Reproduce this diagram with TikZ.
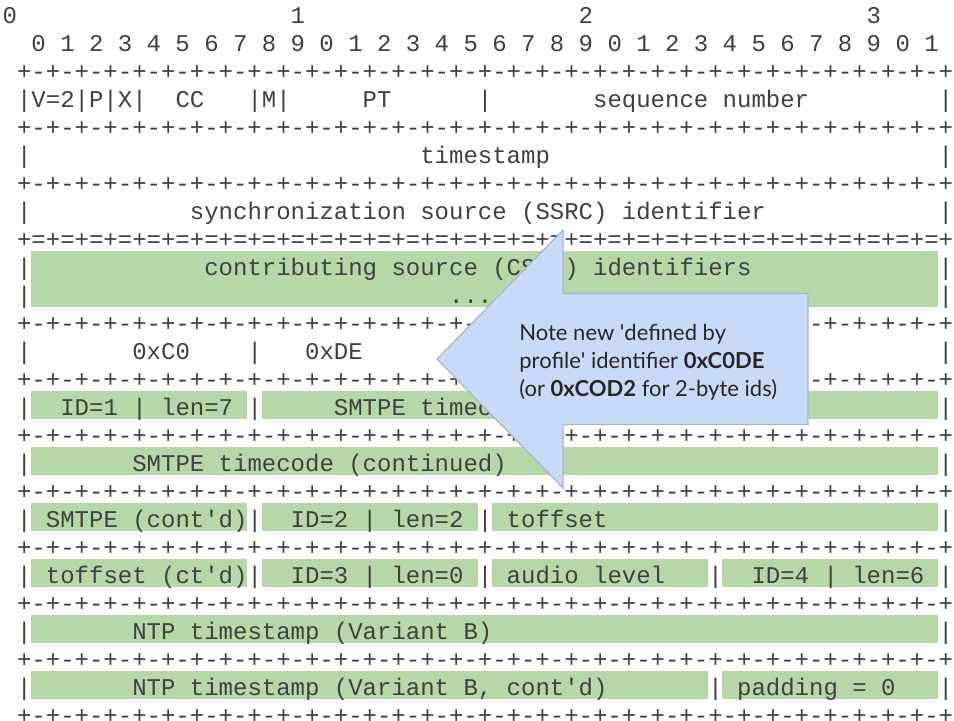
\documentclass[tikz,border=0pt]{standalone}
\usepackage{fontspec}
\setmonofont{Liberation Mono}
\newfontfamily\notefont{Lato}
\usetikzlibrary{positioning}
\definecolor{hlgreen}{HTML}{B6D7A8}
\definecolor{noteblue}{HTML}{C9DAF8}
\definecolor{noteedge}{HTML}{A9B6CA}
\frenchspacing
% one piece of the ascii header: name, column, line, text
\newcommand{\field}[4]{\node[mono] (#1) at ({2.3+14.4*#2},{23+28*#3}) {#4};}

\begin{document}
\begin{tikzpicture}
[x=0.5pt, y=-0.5pt]
\tikzstyle{mono}=[anchor=base west, inner sep=0pt, font=\ttfamily\fontsize{12}{14}\selectfont, text=black!75]
\tikzstyle{hl}=[fill=hlgreen]
\tikzstyle{callout}=[fill=noteblue, draw=noteedge, line width=0.6pt, line join=miter]
\tikzstyle{note}=[anchor=west, align=left, inner sep=0pt, font=\notefont\fontsize{11}{14}\selectfont, text=black!85]

\useasboundingbox (0,0) rectangle (954,720);

% highlighted fields
\fill[hl] ({2.3+14.4*2},251) rectangle ({2.3+14.4*65},307);
\foreach \l/\a/\b in {14/2/16, 14/18/64, 16/2/64, 18/2/16, 18/18/32, 18/34/64,
                      20/2/16, 20/18/32, 20/34/48, 20/50/64, 22/2/64, 24/2/48, 24/50/64}
  \fill[hl] ({2.3+14.4*\a},{-1+28*\l}) rectangle ({2.3+14.4*(\b+1)},{27+28*\l});

% bit ruler
\field{topA}{0}{0}{0}
\field{topB}{20}{0}{1}
\field{topC}{40}{0}{2}
\field{topD}{60}{0}{3}
\field{bits}{2}{1}{0 1 2 3 4 5 6 7 8 9 0 1 2 3 4 5 6 7 8 9 0 1 2 3 4 5 6 7 8 9 0 1}

% separator lines
\foreach \r in {2,4,6,11,13,15,17,19,21,23,25} {
  \field{rule\r}{1}{\r}{+-+-+-+-+-+-+-+-+-+-+-+-+-+-+-+-+-+-+-+-+-+-+-+-+-+-+-+-+-+-+-+-+}
}
\field{rule8}{1}{8}{+=+=+=+=+=+=+=+=+=+=+=+=+=+=+=+=+=+=+=+=+=+=+=+=+=+=+=+=+=+=+=+=+}
\foreach \r in {3,5,7,9,10,12,14,16,18,20,22,24} {
  \field{lbar\r}{1}{\r}{|}
  \field{rbar\r}{65}{\r}{|}
}

% fixed header
\field{vpx}{2}{3}{V=2|P|X|}
\field{cc}{12}{3}{CC}
\field{mark}{17}{3}{|M|}
\field{pt}{25}{3}{PT}
\field{sepA}{33}{3}{|}
\field{seq}{41}{3}{sequence number}
\field{ts}{29}{5}{timestamp}
\field{ssrc}{13}{7}{synchronization source (SSRC) identifier}
\field{csrc}{14}{9}{contributing source (CSRC) identifiers}
\field{dots}{31}{10}{....}

% extension header
\field{magicA}{9}{12}{0xC0}
\field{sepB}{17}{12}{|}
\field{magicB}{21}{12}{0xDE}
\field{extA}{4}{14}{ID=1 | len=7}
\field{sepC}{17}{14}{|}
\field{smtpeA}{23}{14}{SMTPE timecode}
\field{smtpeB}{9}{16}{SMTPE timecode (continued)}
\field{smtpeC}{3}{18}{SMTPE (cont'd)|}
\field{extB}{20}{18}{ID=2 | len=2 |}
\field{toffA}{35}{18}{toffset}
\field{toffB}{3}{20}{toffset (ct'd)|}
\field{extC}{20}{20}{ID=3 | len=0 |}
\field{audio}{35}{20}{audio level}
\field{sepD}{49}{20}{|}
\field{extD}{52}{20}{ID=4 | len=6}
\field{ntpA}{9}{22}{NTP timestamp (Variant B)}
\field{ntpB}{9}{24}{NTP timestamp (Variant B, cont'd)}
\field{pad}{49}{24}{| padding = 0}

% callout arrow
\draw[callout] (437,359) -- (563,230) -- (563,293.5) -- (808,293.5)
  -- (808,424.5) -- (563,424.5) -- (563,488) -- cycle;
\node[note] (note) at (519,362)
  {Note new \textquotesingle defined by\\profile\textquotesingle{} identifier \textbf{0xC0DE}\\(or \textbf{0xCOD2} for 2-byte ids)};
\end{tikzpicture}
\end{document}
